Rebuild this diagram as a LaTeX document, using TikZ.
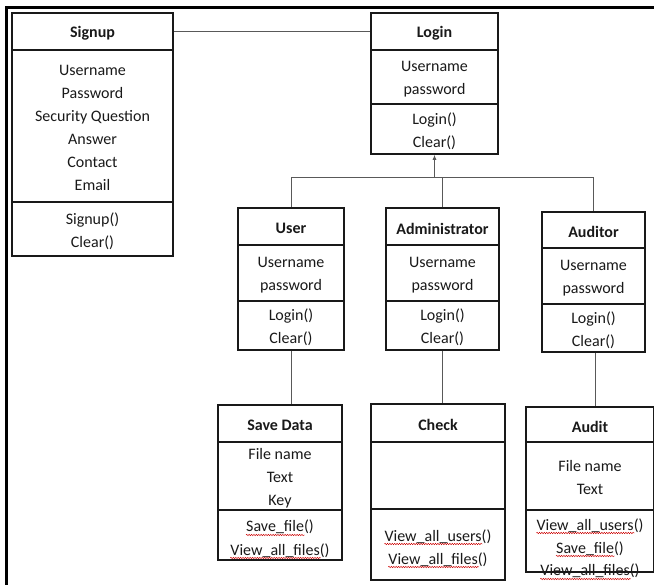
\documentclass[tikz,border=0pt]{standalone}
\usepackage{fontspec}
\setmainfont{Carlito}
\usetikzlibrary{arrows.meta,decorations.pathmorphing}

\begin{document}
\begin{tikzpicture}[x=1pt,y=-1pt,
  part/.style={draw=black!90, line width=1.6pt, inner sep=0pt},
  txt/.style={inner sep=0pt, align=center, font=\fontsize{16}{23}\selectfont, text=black!90, yshift=-2pt},
  line/.style={inner sep=0pt, anchor=base, font=\fontsize{16}{23}\selectfont, text=black!90},
  wave/.style={draw=red!80!black, line width=0.45pt, decorate,
               decoration={snake, amplitude=0.7pt, segment length=2.4pt}},
  conn/.style={draw=black!65, line width=0.9pt},
  frame/.style={draw=black, line width=3pt}]
\useasboundingbox (0,0) rectangle (654,585);

% outer frame
\draw[frame] (6.5,600) -- (6.5,7.5) -- (670,7.5);

% Signup
\node[part, minimum width=161pt, minimum height=37pt]  (signupT) at (92.5,31.5) {};
\node[part, minimum width=161pt, minimum height=152pt] (signupA) at (92.5,126)  {};
\node[part, minimum width=161pt, minimum height=54pt]  (signupM) at (92.5,229)  {};
\node[txt] (signupTt) at (signupT) {\bfseries Signup};
\node[txt] (signupAt) at (signupA) {Username\\Password\\Security Question\\Answer\\Contact\\Email};
\node[txt] (signupMt) at (signupM) {Signup()\\Clear()};

% Login
\node[part, minimum width=127pt, minimum height=37pt]  (loginT) at (434.5,31.5) {};
\node[part, minimum width=127pt, minimum height=54pt]  (loginA) at (434.5,77)   {};
\node[part, minimum width=127pt, minimum height=50pt]  (loginM) at (434.5,129)  {};
\node[txt] (loginTt) at (loginT) {\bfseries Login};
\node[txt] (loginAt) at (loginA) {Username\\password};
\node[txt] (loginMt) at (loginM) {Login()\\Clear()};

% User
\node[part, minimum width=106pt, minimum height=37pt]  (userT) at (291,226.5) {};
\node[part, minimum width=106pt, minimum height=56pt]  (userA) at (291,273)   {};
\node[part, minimum width=106pt, minimum height=49pt]  (userM) at (291,325.5) {};
\node[txt] (userTt) at (userT) {\bfseries User};
\node[txt] (userAt) at (userA) {Username\\password};
\node[txt] (userMt) at (userM) {Login()\\Clear()};

% Administrator
\node[part, minimum width=113pt, minimum height=37pt]  (adminT) at (442.5,226.5) {};
\node[part, minimum width=113pt, minimum height=56pt]  (adminA) at (442.5,273)   {};
\node[part, minimum width=113pt, minimum height=49pt]  (adminM) at (442.5,325.5) {};
\node[txt] (adminTt) at (adminT) {\bfseries Administrator};
\node[txt] (adminAt) at (adminA) {Username\\password};
\node[txt] (adminMt) at (adminM) {Login()\\Clear()};

% Auditor
\node[part, minimum width=103pt, minimum height=36pt]  (auditorT) at (593.5,230) {};
\node[part, minimum width=103pt, minimum height=56pt]  (auditorA) at (593.5,276) {};
\node[part, minimum width=103pt, minimum height=48pt]  (auditorM) at (593.5,328) {};
\node[txt] (auditorTt) at (auditorT) {\bfseries Auditor};
\node[txt] (auditorAt) at (auditorA) {Username\\password};
\node[txt] (auditorMt) at (auditorM) {Login()\\Clear()};

% Save Data
\node[part, minimum width=124pt, minimum height=37pt]  (saveT) at (280,423.5) {};
\node[part, minimum width=124pt, minimum height=68pt]  (saveA) at (280,476)   {};
\node[part, minimum width=124pt, minimum height=50pt]  (saveM) at (280,535)   {};
\node[txt] (saveTt) at (saveT) {\bfseries Save Data};
\node[txt] (saveAt) at (saveA) {File name\\Text\\Key};
\node[line] (saveM1) at (280,532) {Save\_file()};
\node[line] (saveM2) at (280,555) {View\_all\_files()};

% Check
\node[part, minimum width=134pt, minimum height=38pt]  (checkT) at (438,423)   {};
\node[part, minimum width=134pt, minimum height=67pt]  (checkA) at (438,475.5) {};
\node[part, minimum width=134pt, minimum height=71pt]  (checkM) at (438,544.5) {};
\node[txt] (checkTt) at (checkT) {\bfseries Check};
\node[line] (checkM1) at (438,541) {View\_all\_users()};
\node[line] (checkM2) at (438,564) {View\_all\_files()};

% Audit
\node[part, minimum width=128pt, minimum height=35pt]  (auditT) at (590,424.5) {};
\node[part, minimum width=128pt, minimum height=68pt]  (auditA) at (590,476)   {};
\node[part, minimum width=128pt, minimum height=62pt]  (auditM) at (590,541)   {};
\node[txt] (auditTt) at (auditT) {\bfseries Audit};
\node[txt] (auditAt) at (auditA) {File name\\Text};
\node[line] (auditM1) at (590,530) {View\_all\_users()};
\node[line] (auditM2) at (590,553) {Save\_file()};
\node[line] (auditM3) at (590,576) {View\_all\_files()};

% spell-checker marks under the method names
\foreach \m in {saveM1,saveM2,checkM1,checkM2,auditM1,auditM2,auditM3}
  \draw[wave] ([yshift=-3pt]\m.base west) -- ([xshift=-9pt,yshift=-3pt]\m.base east);

% association Signup -- Login
\draw[conn] (signupT.east) -- (loginT.west);

% generalisation: User, Administrator, Auditor -> Login
\coordinate (bus) at (0,177);
\draw[conn] (userT.north) |- (bus -| auditorT.north) -- (auditorT.north);
\draw[conn] (adminT.north) -- (adminT.north |- bus);
\draw[conn, -{Latex[length=5pt,width=4pt]}] (loginM.south |- bus) -- (loginM.south);

% links to the operation classes
\draw[conn] (userM.south) -- (userM.south |- saveT.north);
\draw[conn] (adminM.south) -- (adminM.south |- checkT.north);
\draw[conn] ([xshift=1.5pt]auditorM.south) -- ([xshift=1.5pt]auditorM.south |- auditT.north);
\end{tikzpicture}
\end{document}
